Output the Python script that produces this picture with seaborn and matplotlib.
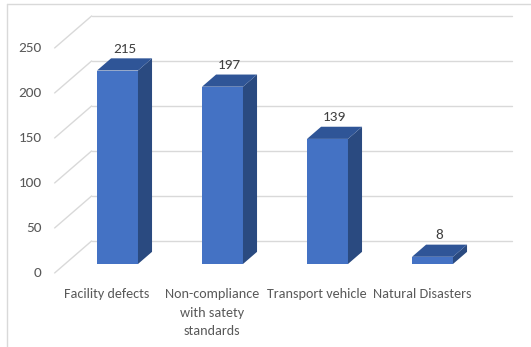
import numpy as np
import pandas as pd
import seaborn as sns
import matplotlib.pyplot as plt
from matplotlib.patches import Polygon
from matplotlib.lines import Line2D

categories = ['Facility defects', 'Non-compliance\nwith satety\nstandards',
              'Transport vehicle', 'Natural Disasters']
counts = [215, 197, 139, 8]
y_ticks = [0, 50, 100, 150, 200, 250]

front_col = '#4472C4'
top_col = '#2F5597'
side_col = '#2A4A80'
grid_col = '#D9D9D9'
text_col = '#595959'

sns.set_style('white')
plt.rcParams['font.family'] = ['Carlito', 'Lato', 'DejaVu Sans']
fs = 10.2

W, H = 531, 347
fig = plt.figure(figsize=(W / 100, H / 100), dpi=100)
ax = fig.add_axes([0, 0, 1, 1])

df = pd.DataFrame({'cause': categories, 'count': counts})
sns.barplot(data=df, x='cause', y='count', color=front_col, width=0.39,
            saturation=1, ax=ax, zorder=3, linewidth=0)

# pixel scale of the fake 3d view (bar front plane is the reference)
px_x = 105.0
px_y = 0.9
x0_px = 117.5
y0_px = 264.0
ax.set_xlim(-x0_px / px_x, (W - x0_px) / px_x)
ax.set_ylim((y0_px - H) / px_y, y0_px / px_y)
ax.axis('off')

# depth direction, one unit = floor depth
ddx = 37 / px_x
ddy = 32 / px_y
front_d, back_d, bar_d = -0.28, 0.72, 0.38
n = len(categories)

# walls / gridlines
for t in y_ticks:
    xb0 = -0.5 + back_d * ddx
    xb1 = n - 0.5 + back_d * ddx
    yb = t + back_d * ddy
    ax.plot([xb0, xb1], [yb, yb], color=grid_col, lw=1, zorder=1)
    xf = -0.5 + front_d * ddx
    yf = t + front_d * ddy
    ax.annotate(str(t), xy=(xf, yf), xytext=(-9.5, 0), textcoords='offset points',
                ha='right', va='center', color=text_col, fontsize=11)
    ax.plot([xf, xb0], [yf, yb], color=grid_col, lw=1, zorder=1)

# 3d faces of bars
for p in ax.patches[:n]:
    x, w, h = p.get_x(), p.get_width(), p.get_height()
    bdx, bdy = bar_d * ddx, bar_d * ddy
    top = Polygon([(x, h), (x + w, h), (x + w + bdx, h + bdy), (x + bdx, h + bdy)],
                  closed=True, facecolor=top_col, edgecolor='none', zorder=3)
    side = Polygon([(x + w, 0), (x + w + bdx, bdy), (x + w + bdx, h + bdy), (x + w, h)],
                   closed=True, facecolor=side_col, edgecolor='none', zorder=3)
    ax.add_patch(side)
    ax.add_patch(top)
    ax.annotate(f'{h:.0f}', xy=(x + (w + bdx) / 2, h + bdy), xytext=(0, 4),
                textcoords='offset points', ha='center', va='baseline',
                color='#404040', fontsize=11, zorder=4)

# category labels on the front edge of the floor
for i, lab in enumerate(categories):
    ax.annotate(lab, xy=(i + front_d * ddx, front_d * ddy), xytext=(0, -11),
                textcoords='offset points', ha='center', va='top',
                multialignment='center', linespacing=1.65,
                color=text_col, fontsize=fs)

# chart border
fig.add_artist(Line2D([7 / W, 1], [1 - 4 / H, 1 - 4 / H], transform=fig.transFigure,
                      color=grid_col, lw=1))
fig.add_artist(Line2D([7 / W, 7 / W], [0, 1 - 4 / H], transform=fig.transFigure,
                      color=grid_col, lw=1))

fig.savefig('out.png', dpi=100, facecolor='white')
